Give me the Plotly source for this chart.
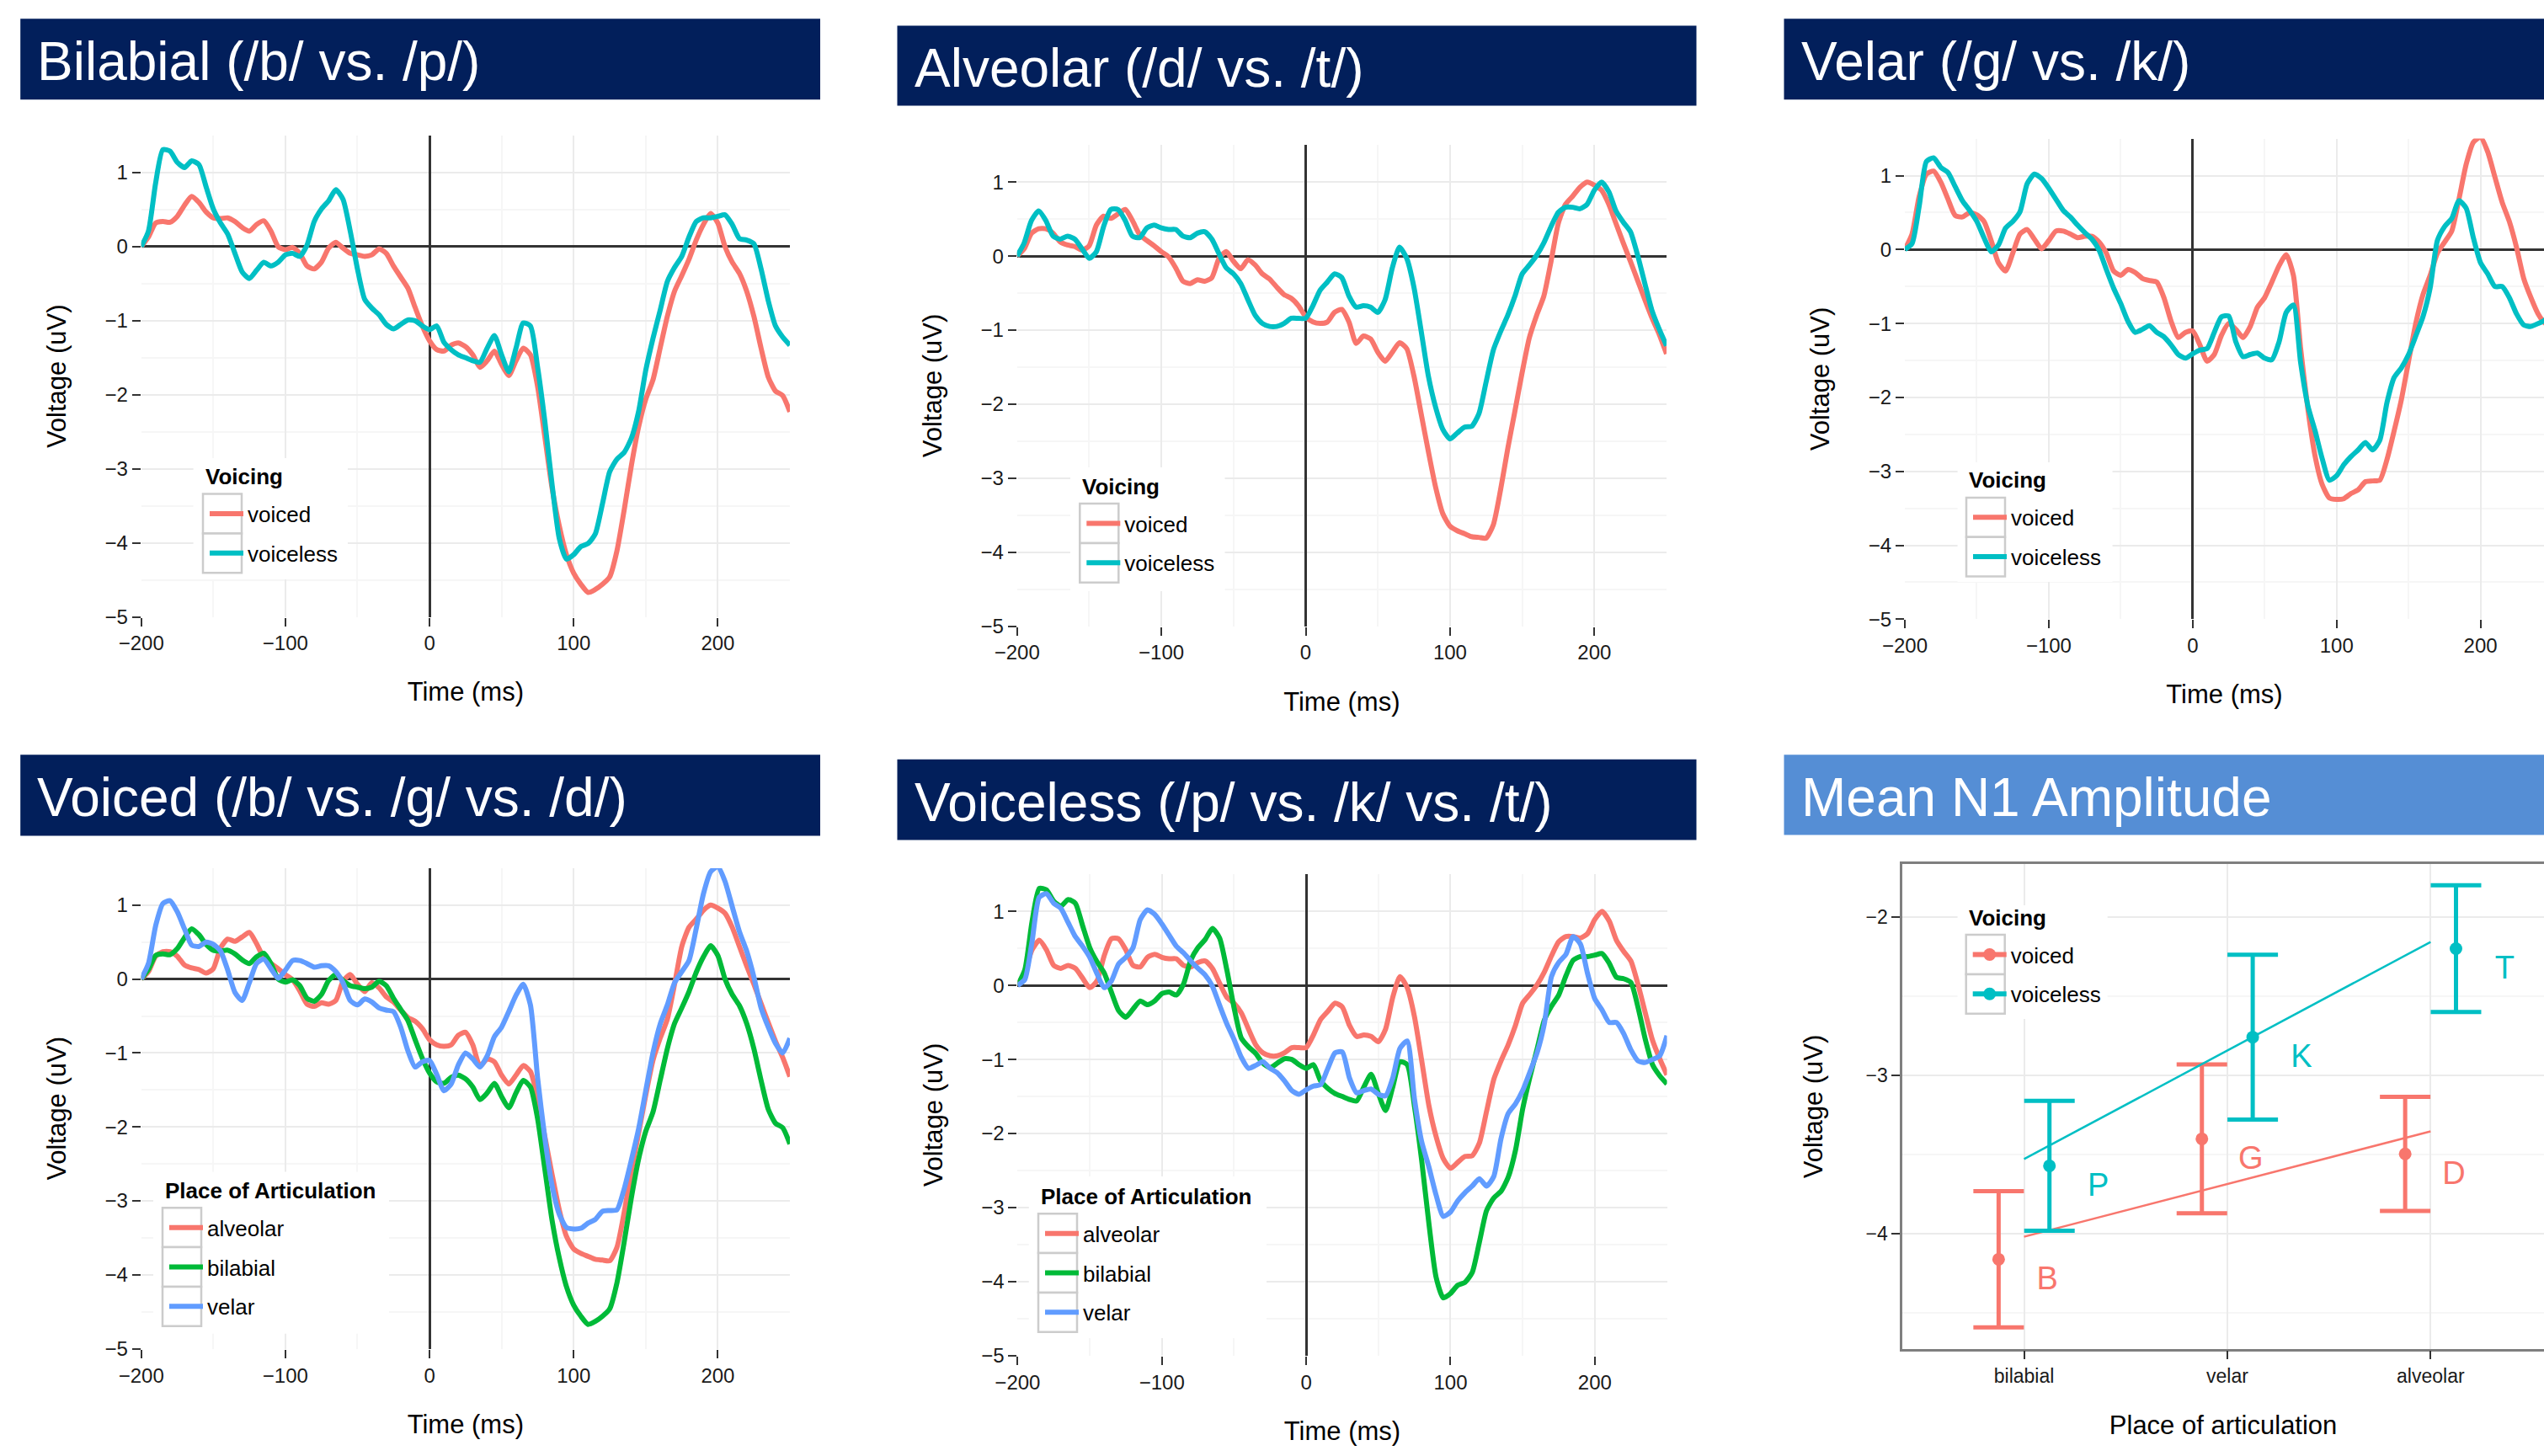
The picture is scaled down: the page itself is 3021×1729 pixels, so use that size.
import numpy as np
import plotly.graph_objects as go

W, H = 3021, 1729

# ---------------- data ----------------
TIME = list(range(-200, 251, 5))

bilabial_voiced = [0, 0.13, 0.32, 0.34, 0.33, 0.41, 0.56, 0.68, 0.60, 0.47,
                   0.39, 0.38, 0.39, 0.34, 0.26, 0.21, 0.30, 0.35, 0.21, 0.00,
                   -0.04, -0.01, -0.09, -0.26, -0.30, -0.21, -0.02, 0.06, -0.02, -0.09,
                   -0.11, -0.13, -0.11, -0.03, -0.09, -0.26, -0.41, -0.56, -0.82, -1.07,
                   -1.27, -1.39, -1.41, -1.33, -1.30, -1.35, -1.46, -1.63, -1.54, -1.41,
                   -1.59, -1.74, -1.54, -1.37, -1.46, -1.89, -2.57, -3.26, -3.77, -4.16,
                   -4.41, -4.56, -4.67, -4.63, -4.56, -4.46, -4.11, -3.56, -2.96, -2.44,
                   -2.06, -1.80, -1.37, -0.94, -0.60, -0.39, -0.17, 0.09, 0.30, 0.45,
                   0.32, 0.00, -0.21, -0.36, -0.60, -0.94, -1.37, -1.76, -1.95, -2.01,
                   -2.23]
bilabial_voiceless = [0, 0.21, 0.86, 1.31, 1.29, 1.14, 1.07, 1.16, 1.11, 0.81,
                      0.51, 0.32, 0.17, -0.09, -0.34, -0.43, -0.32, -0.21, -0.26, -0.21,
                      -0.11, -0.09, -0.13, 0.02, 0.34, 0.51, 0.62, 0.77, 0.64, 0.21,
                      -0.30, -0.71, -0.83, -0.92, -1.05, -1.11, -1.05, -0.99, -1.00, -1.07,
                      -1.12, -1.07, -1.29, -1.39, -1.46, -1.50, -1.54, -1.56, -1.37, -1.20,
                      -1.46, -1.69, -1.37, -1.03, -1.07, -1.63, -2.36, -3.21, -3.94, -4.22,
                      -4.16, -4.05, -4.01, -3.88, -3.47, -3.04, -2.87, -2.78, -2.59, -2.23,
                      -1.67, -1.24, -0.86, -0.47, -0.28, -0.13, 0.13, 0.34, 0.39, 0.39,
                      0.41, 0.43, 0.30, 0.11, 0.09, 0.04, -0.30, -0.73, -1.07, -1.22,
                      -1.33]
alveolar_voiced = [0, 0.10, 0.31, 0.37, 0.37, 0.31, 0.19, 0.15, 0.13, 0.08,
                   0.14, 0.42, 0.54, 0.51, 0.57, 0.63, 0.48, 0.29, 0.21, 0.14,
                   0.06, -0.01, -0.16, -0.34, -0.37, -0.32, -0.34, -0.29, -0.03, 0.06,
                   -0.07, -0.17, -0.05, -0.12, -0.24, -0.31, -0.42, -0.52, -0.57, -0.67,
                   -0.82, -0.89, -0.91, -0.89, -0.76, -0.72, -0.89, -1.18, -1.08, -1.12,
                   -1.30, -1.42, -1.30, -1.17, -1.25, -1.62, -2.13, -2.64, -3.12, -3.48,
                   -3.65, -3.71, -3.75, -3.79, -3.80, -3.81, -3.63, -3.16, -2.60, -2.09,
                   -1.57, -1.10, -0.80, -0.54, -0.07, 0.44, 0.70, 0.81, 0.93, 1.00,
                   0.96, 0.89, 0.70, 0.44, 0.18, -0.07, -0.33, -0.59, -0.84, -1.06,
                   -1.32]
alveolar_voiceless = [0, 0.18, 0.48, 0.61, 0.48, 0.27, 0.23, 0.27, 0.23, 0.10,
                      -0.03, 0.06, 0.40, 0.63, 0.63, 0.48, 0.27, 0.25, 0.38, 0.42,
                      0.38, 0.36, 0.36, 0.27, 0.25, 0.31, 0.33, 0.23, 0.03, -0.16,
                      -0.24, -0.37, -0.59, -0.80, -0.91, -0.95, -0.95, -0.91, -0.84, -0.84,
                      -0.84, -0.67, -0.46, -0.35, -0.24, -0.29, -0.54, -0.69, -0.67, -0.69,
                      -0.76, -0.59, -0.16, 0.12, -0.03, -0.42, -1.01, -1.62, -2.04, -2.34,
                      -2.47, -2.39, -2.31, -2.30, -2.13, -1.70, -1.27, -1.02, -0.80, -0.54,
                      -0.24, -0.12, 0.01, 0.18, 0.40, 0.59, 0.66, 0.66, 0.64, 0.70,
                      0.89, 1.00, 0.87, 0.61, 0.46, 0.33, 0.01, -0.37, -0.74, -0.99,
                      -1.21]
velar_voiced = [0, 0.21, 0.72, 1.02, 1.06, 0.91, 0.68, 0.46, 0.44, 0.50,
                0.47, 0.38, 0.12, -0.18, -0.29, -0.05, 0.21, 0.27, 0.14, 0.01,
                0.12, 0.25, 0.25, 0.21, 0.16, 0.18, 0.18, 0.10, -0.05, -0.29,
                -0.35, -0.27, -0.31, -0.39, -0.42, -0.44, -0.65, -0.97, -1.19, -1.12,
                -1.10, -1.29, -1.51, -1.42, -1.16, -1.00, -1.08, -1.19, -1.04, -0.78,
                -0.65, -0.44, -0.22, -0.07, -0.35, -1.34, -2.15, -2.79, -3.18, -3.36,
                -3.38, -3.37, -3.30, -3.25, -3.14, -3.13, -3.12, -2.84, -2.45, -2.03,
                -1.51, -1.00, -0.61, -0.35, -0.05, 0.10, 0.25, 0.68, 1.15, 1.45,
                1.52, 1.32, 0.98, 0.64, 0.38, 0.03, -0.39, -0.65, -0.87, -1.00,
                -0.80]
velar_voiceless = [0, 0.08, 0.59, 1.19, 1.24, 1.11, 1.04, 0.85, 0.66, 0.53,
                   0.38, 0.16, -0.03, 0.06, 0.29, 0.38, 0.51, 0.89, 1.02, 0.96,
                   0.83, 0.68, 0.53, 0.44, 0.33, 0.23, 0.14, -0.01, -0.27, -0.52,
                   -0.73, -0.97, -1.12, -1.08, -1.03, -1.12, -1.18, -1.29, -1.42, -1.47,
                   -1.41, -1.36, -1.34, -1.12, -0.91, -0.90, -1.25, -1.45, -1.42, -1.40,
                   -1.47, -1.49, -1.25, -0.85, -0.75, -1.53, -2.11, -2.45, -2.83, -3.12,
                   -3.06, -2.91, -2.80, -2.71, -2.61, -2.71, -2.58, -2.07, -1.73, -1.60,
                   -1.42, -1.17, -0.91, -0.52, 0.12, 0.31, 0.42, 0.66, 0.56, 0.16,
                   -0.18, -0.33, -0.50, -0.50, -0.65, -0.87, -1.02, -1.04, -1.00, -0.95,
                   -0.68]

# mean N1 amplitude panel
PLACES = ["bilabial", "velar", "alveolar"]
n1_voiced_mean = [-4.16, -3.40, -3.495]
n1_voiced_err = [0.43, 0.47, 0.36]
n1_voiced_labels = ["B", "G", "D"]
n1_voiceless_mean = [-3.57, -2.758, -2.199]
n1_voiceless_err = [0.41, 0.52, 0.40]
n1_voiceless_labels = ["P", "K", "T"]

# ---------------- style ----------------
RED, CYAN, GREEN, BLUE = "#F8766D", "#00BFC4", "#00BA38", "#619CFF"
NAVY, LIGHTBLUE = "#021F5B", "#558ED5"
FONT = "Liberation Sans, Arial, Helvetica, sans-serif"
MAJ, MIN = "#EBEBEB", "#F6F6F6"
LW = 6


def px(x):
    return x / W


def py(y):
    return 1 - y / H


fig = go.Figure()

# panel geometry in pixels: (x0, x1), (ytop, ybottom)
wave_panels = {
    1: dict(x=(167.7, 938.0), y=(161.1, 732.5), xr=[-200, 250]),
    2: dict(x=(1207.7, 1979.0), y=(172.3, 743.6), xr=[-200, 250]),
    3: dict(x=(2262.0, 3021.0), y=(164.6, 735.3), xr=[-200, 244.1]),
    4: dict(x=(167.7, 938.0), y=(1030.9, 1601.7), xr=[-200, 250]),
    5: dict(x=(1208.4, 1979.5), y=(1038.3, 1609.8), xr=[-200, 250]),
}

tickfont = dict(family=FONT, size=24, color="#1a1a1a")
titlefont = dict(family=FONT, size=31, color="#000000")

for k, p in wave_panels.items():
    sfx = "" if k == 1 else str(k)
    fig.update_layout(**{
        f"xaxis{sfx}": dict(
            domain=[px(p["x"][0]), px(p["x"][1])], range=p["xr"], anchor=f"y{sfx}",
            automargin=False,
            dtick=100, tick0=0, ticks="outside", ticklen=10, tickwidth=2, tickcolor="#333333",
            showgrid=True, gridcolor=MAJ, gridwidth=2,
            minor=dict(dtick=50, tick0=0, showgrid=True, gridcolor=MIN, gridwidth=1.5),
            zeroline=True, zerolinecolor="#333333", zerolinewidth=2.5,
            showline=False, tickfont=tickfont, fixedrange=True,
            title=dict(text="Time (ms)", font=titlefont, standoff=34),
        ),
        f"yaxis{sfx}": dict(
            domain=[py(p["y"][1]), py(p["y"][0])], range=[-5, 1.5], anchor=f"x{sfx}",
            automargin=False,
            dtick=1, tick0=0, ticks="outside", ticklen=10, tickwidth=2, tickcolor="#333333",
            showgrid=True, gridcolor=MAJ, gridwidth=2,
            minor=dict(dtick=0.5, tick0=0, showgrid=True, gridcolor=MIN, gridwidth=1.5),
            zeroline=True, zerolinecolor="#333333", zerolinewidth=2.5,
            showline=False, tickfont=tickfont, fixedrange=True,
            title=dict(text="Voltage (uV)", font=titlefont, standoff=36),
        ),
    })


def add_wave(k, y, name, color, legend):
    sfx = "" if k == 1 else str(k)
    fig.add_trace(go.Scatter(
        x=TIME, y=y, mode="lines", name=name, legendgroup=f"{k}-{name}",
        line=dict(color=color, width=LW, shape="spline", smoothing=0.6),
        xaxis=f"x{sfx}", yaxis=f"y{sfx}", legend=legend, hoverinfo="skip",
    ))


add_wave(1, bilabial_voiced, "voiced", RED, "legend")
add_wave(1, bilabial_voiceless, "voiceless", CYAN, "legend")
add_wave(2, alveolar_voiced, "voiced", RED, "legend2")
add_wave(2, alveolar_voiceless, "voiceless", CYAN, "legend2")
add_wave(3, velar_voiced, "voiced", RED, "legend3")
add_wave(3, velar_voiceless, "voiceless", CYAN, "legend3")
add_wave(4, alveolar_voiced, "alveolar", RED, "legend4")
add_wave(4, bilabial_voiced, "bilabial", GREEN, "legend4")
add_wave(4, velar_voiced, "velar", BLUE, "legend4")
add_wave(5, alveolar_voiceless, "alveolar", RED, "legend5")
add_wave(5, bilabial_voiceless, "bilabial", GREEN, "legend5")
add_wave(5, velar_voiceless, "velar", BLUE, "legend5")

# ---------------- panel 6: Mean N1 amplitude ----------------
fig.update_layout(
    xaxis6=dict(
        domain=[px(2259.2), 1.0], range=[0.402, 3.558], anchor="y6", automargin=False,
        tickvals=[1, 2, 3], ticktext=PLACES, ticks="outside", ticklen=10, tickwidth=2,
        tickcolor="#333333", showgrid=True, gridcolor=MAJ, gridwidth=2,
        zeroline=False, showline=True, linecolor="#7f7f7f", linewidth=2.5, mirror=True,
        tickfont=dict(family=FONT, size=23, color="#1a1a1a"), fixedrange=True,
        title=dict(text="Place of articulation", font=titlefont, standoff=36),
    ),
    yaxis6=dict(
        domain=[py(1601.7), py(1026.2)], range=[-4.725, -1.666], anchor="x6", automargin=False,
        dtick=1, tick0=0, ticks="outside", ticklen=10, tickwidth=2, tickcolor="#333333",
        showgrid=True, gridcolor=MAJ, gridwidth=2,
        minor=dict(dtick=0.5, tick0=0, showgrid=True, gridcolor=MIN, gridwidth=1.5),
        zeroline=False, showline=True, linecolor="#7f7f7f", linewidth=2.5,
        tickfont=dict(family=FONT, size=23, color="#1a1a1a"), fixedrange=True,
        title=dict(text="Voltage (uV)", font=titlefont, standoff=42),
    ),
)

pos = np.array([1.0, 2.0, 3.0])
DODGE = 0.125
for means, errs, labels, color, name, off in [
    (n1_voiced_mean, n1_voiced_err, n1_voiced_labels, RED, "voiced", -DODGE),
    (n1_voiceless_mean, n1_voiceless_err, n1_voiceless_labels, CYAN, "voiceless", DODGE),
]:
    means = np.array(means)
    # regression line over the three places
    slope, icpt = np.polyfit(pos, means, 1)
    fig.add_trace(go.Scatter(
        x=[pos[0], pos[-1]], y=[icpt + slope * pos[0], icpt + slope * pos[-1]],
        mode="lines", line=dict(color=color, width=2.5), showlegend=False,
        legendgroup=f"6-{name}", xaxis="x6", yaxis="y6", hoverinfo="skip",
    ))
    # points with error bars (gaps so that no connecting line is drawn)
    xs, ys, es = [], [], []
    for i in range(len(pos)):
        if i:
            xs.append(None); ys.append(None); es.append(None)
        xs.append(pos[i] + off); ys.append(means[i]); es.append(errs[i])
    fig.add_trace(go.Scatter(
        x=xs, y=ys, mode="lines+markers", connectgaps=False, name=name,
        legendgroup=f"6-{name}", legend="legend6",
        line=dict(color=color, width=LW),
        marker=dict(color=color, size=15),
        error_y=dict(type="data", array=es, visible=True, color=color, thickness=5, width=30),
        xaxis="x6", yaxis="y6", hoverinfo="skip",
    ))
    fig.add_trace(go.Scatter(
        x=pos + off + 0.24, y=means - 0.14, mode="text", text=labels,
        textfont=dict(family=FONT, size=38, color=color), showlegend=False,
        xaxis="x6", yaxis="y6", hoverinfo="skip",
    ))

# ---------------- legends (ggplot-style: white box, titled, boxed keys) ----------------
KEY = 46.8          # key box size / item pitch in px
legend_specs = {
    # name: (key_left, first_key_center, n_items, title, bg (x0, x1, y0, y1))
    "legend":  (241.0, 610.0, 2, "Voicing", (229.6, 413.0, 544.0, 688.0)),
    "legend2": (1282.3, 621.5, 2, "Voicing", (1271.0, 1454.5, 555.0, 702.0)),
    "legend3": (2335.0, 614.3, 2, "Voicing", (2324.6, 2508.6, 549.0, 691.0)),
    "legend4": (193.0, 1457.7, 3, "Place of Articulation", (182.0, 462.0, 1391.6, 1583.8)),
    "legend5": (1233.0, 1464.7, 3, "Place of Articulation", (1221.8, 1504.0, 1397.0, 1589.0)),
    "legend6": (2334.7, 1133.5, 2, "Voicing", (2324.6, 2502.7, 1075.0, 1210.0)),
}
for name, (kl, c0, n, title, (bx0, bx1, by0, by1)) in legend_specs.items():
    # white legend background
    fig.add_shape(type="rect", xref="paper", yref="paper", layer="above",
                  x0=px(bx0), x1=px(bx1), y0=py(by1), y1=py(by0),
                  fillcolor="white", line=dict(width=0))
    # grey key boxes
    for i in range(n):
        top = c0 - KEY / 2 + i * KEY
        fig.add_shape(type="rect", xref="paper", yref="paper", layer="above",
                      x0=px(kl), x1=px(kl + 46), y0=py(top + KEY), y1=py(top),
                      fillcolor="white", line=dict(color="#CCCCCC", width=2.5))
    # title
    fig.add_annotation(xref="paper", yref="paper", x=px(kl + 1), y=py(c0 - 44),
                       xanchor="left", yanchor="middle", showarrow=False,
                       text=f"<b>{title}</b>",
                       font=dict(family=FONT, size=26, color="#000000"))
    fig.update_layout(**{name: dict(
        x=px(kl + 3), y=py(c0 - 23.4), xanchor="left", yanchor="top",
        xref="paper", yref="paper", bgcolor="rgba(0,0,0,0)", borderwidth=0,
        itemwidth=40, tracegroupgap=10,
        font=dict(family=FONT, size=26, color="#000000"),
    )})

# ---------------- title banners ----------------
banners = [
    ((24.2, 974.0), (22.2, 118.2), NAVY, "Bilabial (/b/ vs. /p/)", 42.0),
    ((1065.5, 2014.5), (30.5, 125.4), NAVY, "Alveolar (/d/ vs. /t/)", 1084.0),
    ((2118.5, 3021.0), (22.2, 118.2), NAVY, "Velar (/g/ vs. /k/)", 2136.5),
    ((24.2, 974.0), (896.2, 992.6), NAVY, "Voiced (/b/ vs. /g/ vs. /d/)", 42.0),
    ((1065.5, 2014.5), (901.7, 997.5), NAVY, "Voiceless (/p/ vs. /k/ vs. /t/)", 1084.0),
    ((2118.5, 3021.0), (896.2, 991.5), LIGHTBLUE, "Mean N1 Amplitude", 2136.5),
]
for (x0, x1), (y0, y1), col, text, tx in banners:
    fig.add_shape(type="rect", xref="paper", yref="paper",
                  x0=px(x0), x1=px(x1), y0=py(y1), y1=py(y0),
                  fillcolor=col, line=dict(width=0), layer="below")
    fig.add_annotation(xref="paper", yref="paper", x=px(tx), y=py((y0 + y1) / 2 + 3),
                       xanchor="left", yanchor="middle", showarrow=False, text=text,
                       font=dict(family=FONT, size=64, color="white"))

fig.update_layout(
    width=W, height=H, margin=dict(l=0, r=0, t=0, b=0, autoexpand=False),
    paper_bgcolor="white", plot_bgcolor="white",
    font=dict(family=FONT),
)

fig.write_html(
    "out.html",
    config={"displayModeBar": False},
    post_script="document.body.style.margin='0px';document.body.style.overflow='hidden';",
)
